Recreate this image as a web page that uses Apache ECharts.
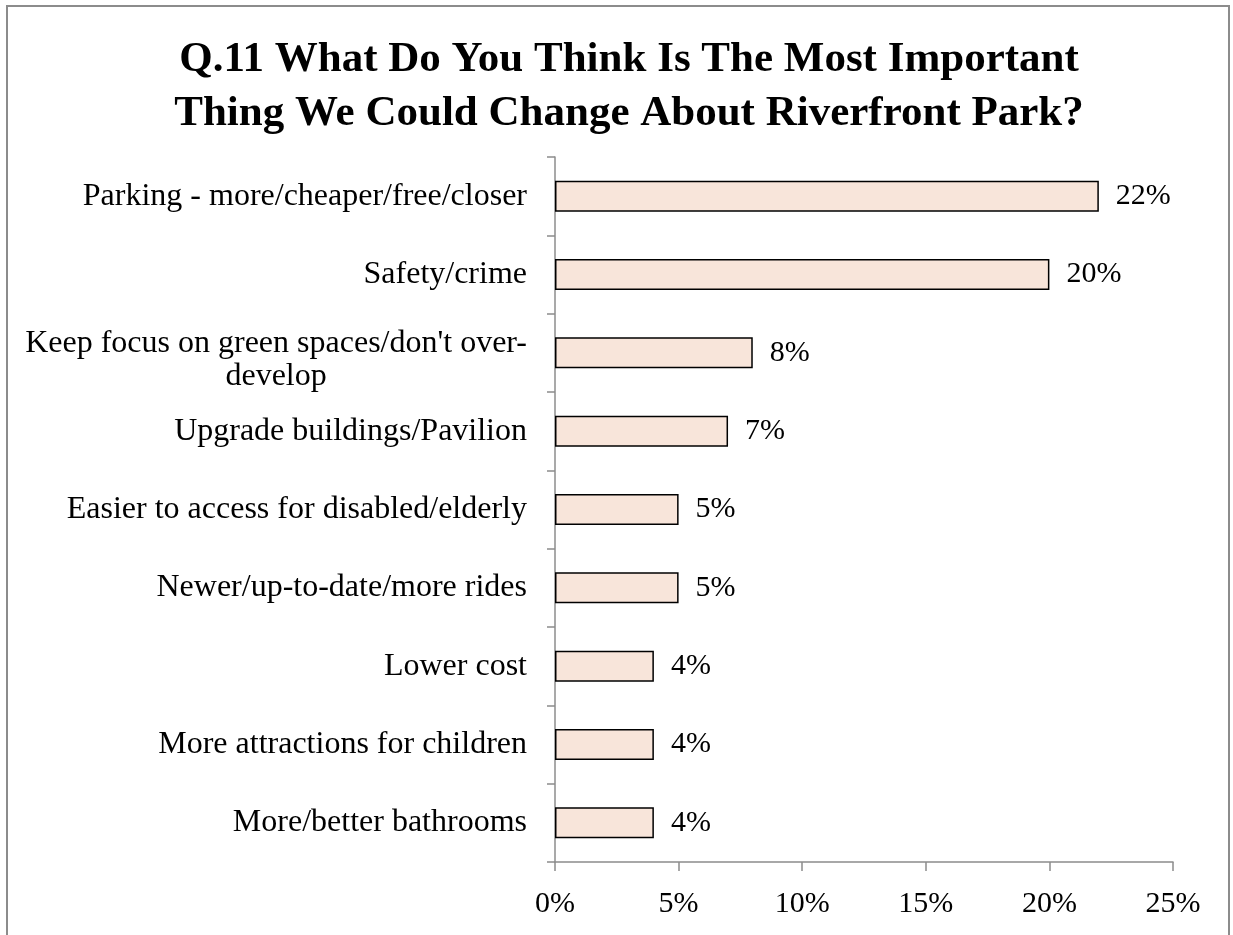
<!DOCTYPE html>
<html>
<head>
<meta charset="utf-8">
<script src="https://cdn.jsdelivr.net/npm/echarts@6/dist/echarts.min.js"></script>
<style>html,body{margin:0;padding:0;background:#fff}#c{width:1233px;height:935px}</style>
</head>
<body>
<div id="c"></div>
<script>
var categories = [
  "Parking - more/cheaper/free/closer",
  "Safety/crime",
  "Keep focus on green spaces/don't over-\ndevelop",
  "Upgrade buildings/Pavilion",
  "Easier to access for disabled/elderly",
  "Newer/up-to-date/more rides",
  "Lower cost",
  "More attractions for children",
  "More/better bathrooms"
];
var values = [22, 20, 8, 7, 5, 5, 4, 4, 4];
var xTicks = [0, 5, 10, 15, 20, 25];
var titleLines = ["Q.11 What Do You Think Is The Most Important", "Thing We Could Change About Riverfront Park?"];

var FONT = "'Liberation Serif', 'Times New Roman', serif";
var chart = echarts.init(document.getElementById('c'));
chart.setOption({
  animation: false,
  backgroundColor: '#fff',
  graphic: [{
    type: 'rect',
    shape: { x: 7, y: 6, width: 1222, height: 1000 },
    style: { fill: 'none', stroke: '#8c8c8c', lineWidth: 2 },
    silent: true
  }, {
    type: 'text',
    x: 629,
    y: 33,
    silent: true,
    style: {
      text: titleLines.join('\n'),
      align: 'center', verticalAlign: 'top',
      textAlign: 'center', textVerticalAlign: 'top',
      fontFamily: FONT, fontWeight: 'bold', fontSize: 43, lineHeight: 54, fill: '#000'
    }
  }],
  grid: { left: 555, right: 60, top: 157, bottom: 73, containLabel: false },
  xAxis: {
    type: 'value',
    min: xTicks[0],
    max: xTicks[xTicks.length - 1],
    interval: 5,
    splitLine: { show: false },
    axisLine: { show: true, lineStyle: { color: '#8c8c8c', width: 1.5 } },
    axisTick: { show: true, length: 9, lineStyle: { color: '#8c8c8c', width: 1.5 } },
    axisLabel: { formatter: '{value}%', margin: 27, fontFamily: FONT, fontSize: 30, color: '#000' }
  },
  yAxis: {
    type: 'category',
    data: categories,
    inverse: true,
    axisLine: { show: true, lineStyle: { color: '#8c8c8c', width: 1.5 } },
    axisTick: { show: true, length: 8, lineStyle: { color: '#8c8c8c', width: 1.5 } },
    axisLabel: {
      margin: 28,
      fontFamily: FONT, fontSize: 32, color: '#000',
      formatter: function (v) {
        var lines = v.split('\n');
        if (lines.length === 1) return '{a|' + v + '}';
        return lines.map(function (l) { return '{b|' + l + '}'; }).join('\n');
      },
      rich: {
        a: { align: 'center', fontFamily: FONT, fontSize: 32, color: '#000', lineHeight: 33 },
        b: { align: 'center', fontFamily: FONT, fontSize: 32, color: '#000', lineHeight: 33, padding: [14, 0, 0, 0] }
      }
    }
  },
  series: [{
    type: 'bar',
    data: values,
    barWidth: 31,
    itemStyle: { color: '#f8e5da', borderColor: '#000', borderWidth: 1.5 },
    label: {
      show: true, position: 'right', distance: 17,
      formatter: '{c}%', fontFamily: FONT, fontSize: 30, color: '#000'
    }
  }]
});
</script>
</body>
</html>
